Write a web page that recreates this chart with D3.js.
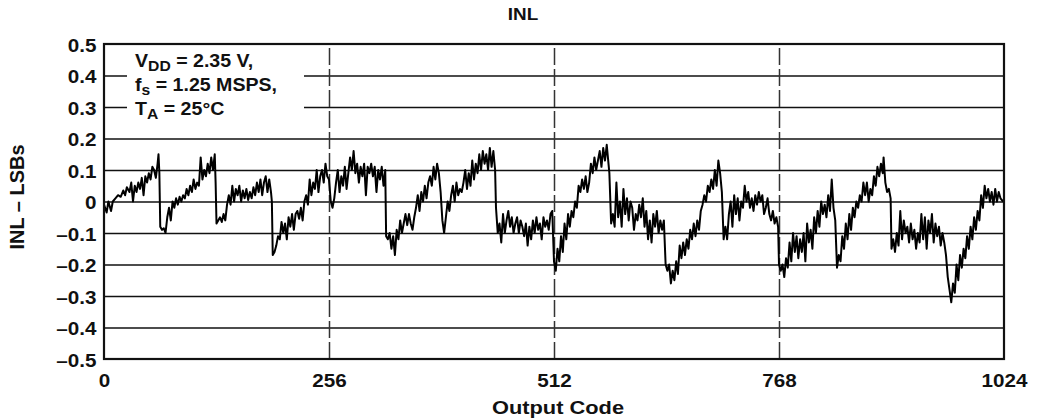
<!DOCTYPE html>
<html>
<head>
<meta charset="utf-8">
<script src="https://cdn.jsdelivr.net/npm/d3@7"></script>
<style>
  body { margin: 0; background: #fff; }
  svg text { font-family: "Liberation Sans", Arial, sans-serif; font-weight: bold; fill: #111; }
</style>
</head>
<body>
<svg id="drawing_region"></svg>
<script>
// output codes and INL values (LSB)
const codes = [
  0,3,5,8,10,13,16,19,22,24,26,29,31,33,35,37,39,41,43,45,47,49,51,53,55,57,59,61,62,63,
  64,66,68,70,72,74,76,78,80,82,84,86,88,90,92,94,96,98,100,102,104,106,108,110,112,114,116,118,120,122,124,126,127,
  128,130,132,134,136,138,140,142,144,146,148,150,152,154,156,158,160,162,164,166,168,170,172,174,176,178,180,182,184,186,188,190,191,
  192,194,196,198,200,202,204,206,208,210,212,214,216,218,220,222,224,226,228,230,232,234,236,238,240,242,244,246,248,250,252,254,256,258,260,262,264,266,268,270,272,274,276,278,280,282,284,286,288,290,292,294,296,298,300,302,304,306,308,310,312,314,316,318,320,
  321,323,325,327,329,331,333,335,337,339,341,343,345,347,349,351,353,355,357,359,361,363,365,367,369,371,373,375,377,379,381,383,385,387,389,391,393,395,397,399,401,403,405,407,409,411,413,415,417,419,421,423,425,427,429,431,433,435,437,439,441,443,445,
  446,448,450,452,454,456,458,460,462,464,466,468,470,472,474,476,478,480,482,484,486,488,490,492,494,496,498,500,502,504,506,508,510,
  512,514,516,518,520,522,524,526,528,530,532,534,536,538,540,542,544,546,548,550,552,554,556,558,560,562,564,566,568,570,572,574,575,
  577,579,581,583,585,587,589,591,593,595,597,599,601,603,605,607,609,611,613,615,617,619,621,623,625,627,629,631,633,635,637,
  639,641,643,645,647,649,651,653,655,657,659,661,663,665,667,669,671,673,675,677,679,681,683,685,687,689,691,693,695,697,699,701,703,
  705,707,709,711,713,715,717,719,721,723,725,727,729,731,733,735,737,739,741,743,745,747,749,751,753,755,757,759,761,763,765,767,
  768,770,772,774,776,778,780,782,784,786,788,790,792,794,796,798,800,802,804,806,808,810,812,814,816,818,820,822,824,826,828,830,832,
  834,836,838,840,842,844,846,848,850,852,854,856,858,860,862,864,866,868,870,872,874,876,878,880,882,884,886,887,889,891,893,895,
  896,898,900,902,904,906,908,910,912,914,916,918,920,922,924,926,928,930,932,934,936,938,940,942,944,946,948,950,952,954,956,958,
  960,962,964,966,968,970,972,974,976,978,980,982,984,986,988,990,992,994,996,998,1000,1002,1004,1006,1008,1010,1012,1014,1016,1018,1020,1023
];
const inl = [
  -0.01,-0.035,0.0,-0.03,0.0,0.01,0.02,0.015,0.035,0.02,0.045,0.03,0.06,0.0,0.05,0.03,0.06,0.04,0.075,0.02,0.08,0.06,0.09,0.07,0.11,0.1,0.075,0.12,0.15,0.09,
  -0.08,-0.09,-0.085,-0.1,-0.05,-0.02,-0.06,0.0,-0.02,0.01,-0.01,0.015,0.0,0.02,0.01,0.04,0.02,0.05,0.03,0.07,0.04,0.06,0.05,0.14,0.07,0.1,0.08,0.12,0.09,0.14,0.1,0.15,0.06,
  -0.07,-0.06,-0.05,-0.065,-0.04,-0.06,-0.01,0.02,-0.01,0.05,0.0,0.04,0.02,0.05,0.0,0.035,0.01,0.04,0.005,0.03,0.01,0.045,0.02,0.06,0.03,0.07,0.02,0.06,0.08,0.03,0.07,0.03,0.0,
  -0.17,-0.16,-0.14,-0.11,-0.12,-0.065,-0.1,-0.07,-0.12,-0.05,-0.08,-0.04,-0.09,-0.04,-0.03,-0.055,-0.02,-0.06,0.0,0.02,-0.01,0.07,0.02,0.06,0.04,0.1,0.03,0.08,0.1,0.06,0.12,0.08,0.07,0.0,-0.02,0.01,0.06,0.1,0.03,0.08,0.05,0.11,0.04,0.09,0.14,0.1,0.16,0.09,0.12,0.06,0.11,0.08,0.12,0.02,0.11,0.09,0.12,0.08,0.11,0.03,0.1,0.07,0.11,0.05,0.1,
  -0.11,-0.12,-0.1,-0.15,-0.11,-0.17,-0.09,-0.12,-0.06,-0.1,-0.07,-0.04,-0.075,-0.04,-0.07,-0.09,-0.05,-0.02,0.02,-0.03,0.03,0.0,0.05,0.01,0.06,0.08,0.05,0.11,0.07,0.12,0.09,0.03,-0.06,-0.1,-0.05,0.0,-0.03,0.02,0.05,0.0,0.06,0.02,0.04,0.03,0.06,0.1,0.04,0.09,0.05,0.13,0.07,0.12,0.09,0.15,0.1,0.16,0.12,0.15,0.1,0.17,0.11,0.16,0.1,
  -0.02,-0.1,-0.07,-0.13,-0.04,-0.1,-0.06,-0.03,-0.08,-0.05,-0.1,-0.07,-0.05,-0.1,-0.06,-0.08,-0.11,-0.07,-0.14,-0.08,-0.12,-0.06,-0.1,-0.05,-0.09,-0.07,-0.12,-0.05,-0.08,-0.06,-0.09,-0.04,-0.03,
  -0.19,-0.22,-0.15,-0.19,-0.11,-0.16,-0.07,-0.12,-0.04,-0.08,-0.03,-0.05,0.0,-0.02,0.05,0.03,0.07,0.04,0.08,0.03,0.06,0.12,0.09,0.14,0.1,0.13,0.16,0.11,0.17,0.13,0.18,0.12,0.09,
  -0.07,-0.04,-0.08,0.06,-0.05,0.0,-0.08,0.04,-0.04,0.01,-0.06,0.0,-0.02,-0.09,-0.04,-0.06,-0.01,-0.05,0.01,-0.08,-0.03,-0.12,-0.06,-0.13,-0.04,-0.08,-0.03,-0.1,-0.06,-0.09,-0.06,
  -0.2,-0.22,-0.2,-0.26,-0.22,-0.25,-0.19,-0.23,-0.14,-0.18,-0.13,-0.17,-0.12,-0.15,-0.09,-0.12,-0.07,-0.11,-0.06,-0.09,-0.03,-0.01,0.02,0.0,0.05,0.03,0.07,0.04,0.1,0.05,0.13,0.09,0.03,
  -0.12,-0.08,-0.12,-0.04,0.0,-0.08,0.02,-0.04,0.01,-0.06,0.0,-0.02,0.05,0.0,0.03,-0.02,0.01,-0.03,0.02,-0.01,0.03,0.0,0.02,-0.04,-0.02,0.01,-0.04,-0.06,-0.03,-0.07,-0.05,-0.08,
  -0.2,-0.22,-0.2,-0.24,-0.18,-0.21,-0.13,-0.19,-0.1,-0.16,-0.11,-0.18,-0.12,-0.16,-0.1,-0.19,-0.07,-0.13,-0.09,-0.15,-0.05,-0.1,-0.03,-0.08,0.0,-0.04,-0.01,-0.05,0.02,-0.03,0.07,-0.02,-0.06,
  -0.21,-0.17,-0.19,-0.11,-0.15,-0.07,-0.12,-0.04,-0.09,-0.02,-0.05,0.0,-0.02,0.02,0.0,0.06,0.02,0.06,0.0,0.04,0.02,0.08,0.05,0.11,0.08,0.12,0.09,0.14,0.06,0.03,0.04,0.01,
  -0.15,-0.12,-0.16,-0.1,-0.14,-0.03,-0.12,-0.06,-0.1,-0.08,-0.13,-0.07,-0.12,-0.09,-0.15,-0.1,-0.13,-0.04,-0.12,-0.05,-0.15,-0.06,-0.1,-0.04,-0.13,-0.07,-0.11,-0.08,-0.14,-0.1,-0.13,-0.17,
  -0.24,-0.28,-0.32,-0.26,-0.29,-0.2,-0.25,-0.17,-0.21,-0.15,-0.18,-0.11,-0.15,-0.08,-0.12,-0.05,-0.09,-0.03,-0.06,0.02,-0.02,0.05,0.01,0.04,0.0,0.03,-0.01,0.04,0.0,0.03,0.01,0.0
];
const yTicks = [-0.5,-0.4,-0.3,-0.2,-0.1,0,0.1,0.2,0.3,0.4,0.5];
const xTicks = [0,256,512,768,1024];
const dashCodes = [256,512,768];

const config = {
  parent: '#drawing_region',
  width: 1039,
  height: 419,
  margin: {top:44, right:35, bottom:60, left:104}
};
const stretch = 1.18;   // glyphs in the picture are wider than plain Arial bold

const data = codes.map((c, i) => ({code: c, value: inl[i]}));

const svg = d3.select(config.parent)
    .attr('width', config.width)
    .attr('height', config.height);

const inner_width = config.width - config.margin.left - config.margin.right;
const inner_height = config.height - config.margin.top - config.margin.bottom;

const chart = svg.append('g')
    .attr('transform', `translate(${config.margin.left}, ${config.margin.top})`);

const xscale = d3.scaleLinear().domain([0, 1024]).range([0, inner_width]);
const yscale = d3.scaleLinear().domain([-0.5, 0.5]).range([inner_height, 0]);

const fmt = d => d === 0 ? '0' : (d < 0 ? '\u2013' : '') + Math.abs(d).toFixed(1);

// horizontal grid
chart.append('g')
    .call(d3.axisLeft(yscale).tickValues(yTicks.slice(1, -1)).tickSize(-inner_width).tickFormat(''))
    .call(g => g.select('.domain').remove())
    .call(g => g.selectAll('line').attr('stroke', '#111').attr('stroke-width', 1.4));

// dashed vertical lines
chart.append('g')
    .call(d3.axisBottom(xscale).tickValues(dashCodes).tickSize(-inner_height).tickFormat(''))
    .attr('transform', `translate(0, ${inner_height})`)
    .call(g => g.select('.domain').remove())
    .call(g => g.selectAll('line').attr('stroke', '#333').attr('stroke-width', 1.5).attr('stroke-dasharray', '17,4'));

// white box behind the conditions text
chart.append('rect')
    .attr('x', 23).attr('y', 2)
    .attr('width', 177).attr('height', 84)
    .attr('fill', '#fff');

// y tick labels
const ylab = chart.append('g')
    .call(d3.axisLeft(yscale).tickValues(yTicks).tickSize(0).tickFormat(fmt))
    .call(g => g.select('.domain').remove());
ylab.selectAll('text')
    .attr('x', 0).attr('dy', null).attr('y', 0)
    .attr('dominant-baseline', 'central')
    .attr('transform', `translate(-7.5, 1.5) scale(${stretch},1)`)
    .style('font-size', '17.5px').attr('fill', '#111');

// x tick labels
const xlab = chart.append('g')
    .attr('transform', `translate(0, ${inner_height})`)
    .call(d3.axisBottom(xscale).tickValues(xTicks).tickSize(0).tickFormat(d3.format('d')))
    .call(g => g.select('.domain').remove());
xlab.selectAll('text')
    .attr('y', 0).attr('dy', null)
    .attr('transform', `translate(0, 28) scale(${stretch},1)`)
    .style('font-size', '17.5px').attr('fill', '#111');

// curve
const line = d3.line().x(d => xscale(d.code)).y(d => yscale(d.value));
chart.append('path')
    .datum(data)
    .attr('fill', 'none')
    .attr('stroke', '#000')
    .attr('stroke-width', 2)
    .attr('stroke-linejoin', 'round')
    .attr('d', line);

// frame
chart.append('rect')
    .attr('width', inner_width).attr('height', inner_height)
    .attr('fill', 'none').attr('stroke', '#111').attr('stroke-width', 2.2);

// conditions text
const cond = chart.append('g').style('font-size', '17.5px');
const condLines = [
  {main: 'V', sub: 'DD', rest: ' = 2.35 V,'},
  {main: 'f', sub: 's', rest: ' = 1.25 MSPS,'},
  {main: 'T', sub: 'A', rest: ' = 25\u00b0C'}
];
condLines.forEach((l, i) => {
  const t = cond.append('text')
      .attr('transform', `translate(31, ${23 + i * 24}) scale(1.12,1)`);
  t.append('tspan').text(l.main);
  t.append('tspan').attr('dy', 4).style('font-size', '14px').text(l.sub);
  t.append('tspan').attr('dy', -4).text(l.rest);
});

// titles
svg.append('text')
    .attr('transform', `translate(523, 20) scale(${stretch},1)`)
    .attr('text-anchor', 'middle').style('font-size', '16px').text('INL');
svg.append('text')
    .attr('transform', `translate(558, 414) scale(${stretch},1)`)
    .attr('text-anchor', 'middle').style('font-size', '18.5px').text('Output Code');
svg.append('text')
    .attr('transform', `translate(24, 197) rotate(-90)`)
    .attr('text-anchor', 'middle').style('font-size', '20px').text('INL \u2013 LSBs');
</script>
</body>
</html>
